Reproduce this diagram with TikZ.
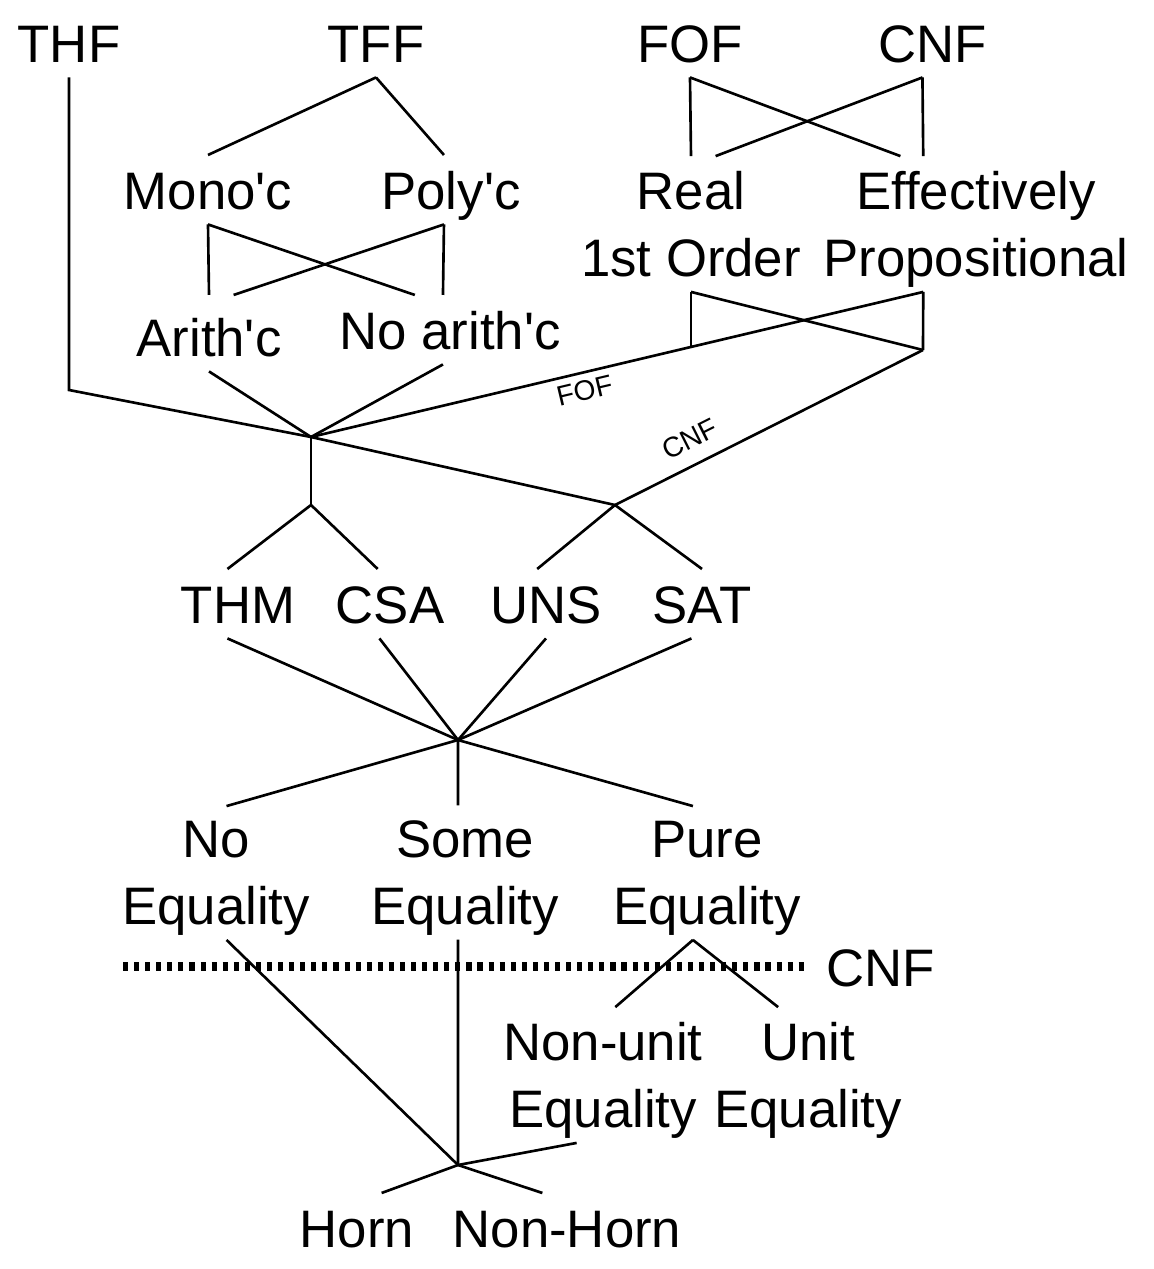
\documentclass[tikz,border=0pt]{standalone}
\usepackage{fontspec}
\setmainfont{Liberation Sans}

\begin{document}
\begin{tikzpicture}[x=0.01cm, y=-0.01cm, line width=0.75pt,
    lbl/.style={font=\fontsize{15}{19}\selectfont, inner xsep=0pt, inner ysep=4pt,
        text height=11pt, text depth=0pt},
    lbltwo/.style={font=\fontsize{15}{19}\selectfont, align=center, inner xsep=0pt,
        inner ysep=4pt, text depth=0pt},
    small/.style={font=\fontsize{8}{10}\selectfont, inner sep=2pt},
    cutline/.style={line width=2.7pt, dash pattern=on 1.45pt off 1.7pt}]

\useasboundingbox (0,0) rectangle (1154,1269);

% Languages
\node[lbl] (thf) at (69,42.7) {THF};
\node[lbl] (tff) at (376,42.7) {TFF};
\node[lbl] (fof) at (690,42.7) {FOF};
\node[lbl] (cnf) at (933,42.7) {CNF};

% Typed first order
\node[lbl] (mono) at (208,189.7) {Mono\textquotesingle c};
\node[lbl] (poly) at (451,189.7) {Poly\textquotesingle c};
\node[lbl] (arith) at (209,336.7) {Arith\textquotesingle c};
\node[lbl] (noarith) at (450,329.7) {No arith\textquotesingle c};

% Untyped first order
\node[lbltwo] (real) at (691,224) {Real\\1st Order};
\node[lbltwo] (effprop) at (976,224) {Effectively\\Propositional};

% Status
\node[lbl] (thm) at (238,603.7) {THM};
\node[lbl] (csa) at (390,603.7) {CSA};
\node[lbl] (uns) at (546,603.7) {UNS};
\node[lbl] (sat) at (702,603.7) {SAT};

% Equality
\node[lbltwo] (noeq) at (216,873) {No\\Equality};
\node[lbltwo] (someeq) at (465,872.5) {Some\\Equality};
\node[lbltwo] (pureeq) at (707,873) {Pure\\Equality};
\node[lbl, inner xsep=5pt] (cnfcut) at (881,966.7) {CNF};
\node[lbltwo] (nonunit) at (603,1075) {Non-unit\\Equality};
\node[lbltwo] (uniteq) at (808,1075) {Unit\\Equality};

% Clause form
\node[lbl] (horn) at (357,1227.7) {Horn};
\node[lbl] (nonhorn) at (567,1227.7) {Non-Horn};

% Junctions
\coordinate (thfbend) at (69,390);
\coordinate (j1) at (311,437);
\coordinate (j1b) at (311,505);
\coordinate (j2) at (615,505);
\coordinate (realfoot) at (691,346);
\coordinate (effbot) at (923,350);
\coordinate (j3) at (458,740);
\coordinate (j4) at (458,1165);
\coordinate (cutstart) at (123,966.7);

% TFF split
\draw (tff.south) -- (mono.north);
\draw (tff.south) -- ([xshift=-2pt]poly.north);

% Mono'c / Poly'c cross
\draw (mono.south) -- ([yshift=2pt]arith.north);
\draw (mono.south) -- ([xshift=-10pt]noarith.north);
\draw ([xshift=-2pt]poly.south) -- ([xshift=-2pt]noarith.north);
\draw ([xshift=-2pt]poly.south) -- ([xshift=7pt,yshift=2pt]arith.north);
\draw (arith.south) -- (j1);
\draw ([xshift=-2pt]noarith.south) -- (j1);

% FOF / CNF cross
\draw (fof.south) -- (real.north);
\draw (fof.south) -- ([xshift=-21.5pt]effprop.north);
\draw ([xshift=-3pt]cnf.south) -- ([xshift=-15pt]effprop.north);
\draw ([xshift=-3pt]cnf.south) -- ([xshift=7pt]real.north);

% Real / Effectively cross
\draw (real.south) -- (realfoot);
\draw (real.south) -- (effbot);
\draw ([xshift=-15pt]effprop.south) -- (effbot);
\draw (j1) -- node[small, sloped, below, pos=0.44] {FOF} ([xshift=-15pt]effprop.south);
\draw (j2) -- node[small, sloped, above, pos=0.28, inner sep=4pt] {CNF} (effbot);

% THF
\draw (thf.south) -- (thfbend) -- (j1) -- (j2);

% Status branches
\draw (j1) -- (j1b);
\draw (j1b) -- ([xshift=-3pt]thm.north);
\draw (j1b) -- ([xshift=-3.5pt]csa.north);
\draw (j2) -- ([xshift=-2.5pt]uns.north);
\draw (j2) -- (sat.north);

\draw ([xshift=-3pt]thm.south) -- (j3);
\draw ([xshift=-3pt]csa.south) -- (j3);
\draw (uns.south) -- (j3);
\draw ([xshift=-3pt]sat.south) -- (j3);

% Equality branches
\draw (j3) -- ([xshift=3pt]noeq.north);
\draw (j3) -- ([xshift=-2pt]someeq.north);
\draw (j3) -- ([xshift=-4pt]pureeq.north);

\draw[cutline] (cutstart) -- (cnfcut.west);

\draw ([xshift=-4pt]pureeq.south) -- ([xshift=3.5pt]nonunit.north);
\draw ([xshift=-4pt]pureeq.south) -- ([xshift=-8.5pt]uniteq.north);

\draw ([xshift=3pt]noeq.south) -- (j4);
\draw ([xshift=-2pt]someeq.south) -- (j4);
\draw ([xshift=-7.5pt]nonunit.south) -- (j4);

% Horn
\draw (j4) -- ([xshift=7pt]horn.north);
\draw (j4) -- ([xshift=-7pt]nonhorn.north);

\end{tikzpicture}
\end{document}
